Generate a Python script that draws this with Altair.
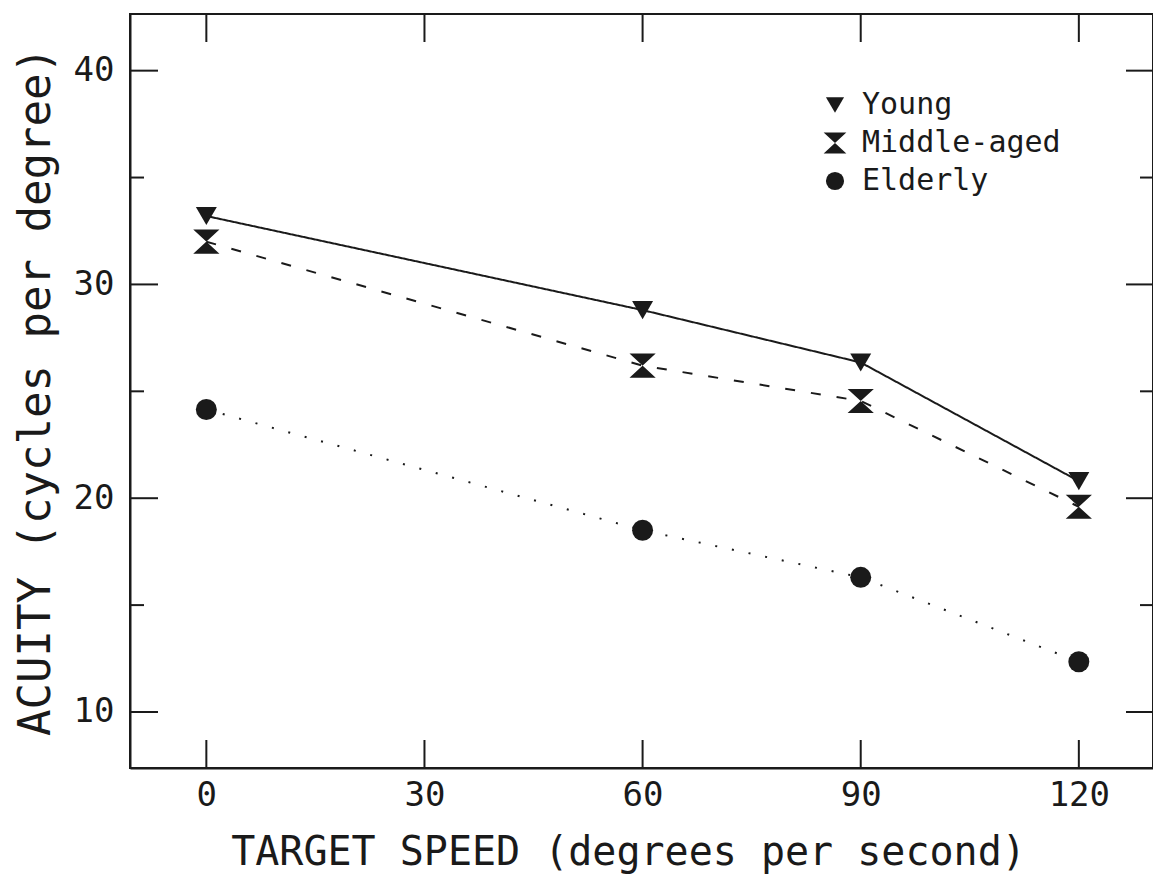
import altair as alt
import pandas as pd

# ---- data ----
speed = [0, 60, 90, 120]
young = [33.2, 28.8, 26.35, 20.8]
middle = [32.0, 26.2, 24.55, 19.6]
elderly = [24.15, 18.5, 16.3, 12.35]
groups = ["Young", "Middle-aged", "Elderly"]

x_ticks = [0, 30, 60, 90, 120]
y_major = [10, 20, 30, 40]
y_minor = [15, 25, 35]

HOURGLASS = "M-1.25,-1.15 L1.25,-1.15 L-1.25,1.15 L1.25,1.15 Z"
FONT = "DejaVu Sans Mono"
INK = "#1a1a1a"

W, H = 1023, 754

rows = []
for g, vals in zip(groups, [young, middle, elderly]):
    for s, v in zip(speed, vals):
        rows.append({"group": g, "speed": s, "acuity": v})
df = pd.DataFrame(rows)

xscale = alt.Scale(domain=[-10.5, 130.2], nice=False, zero=False)
yscale = alt.Scale(domain=[7.38, 42.65], nice=False, zero=False)

xaxis = alt.Axis(values=x_ticks, ticks=False, tickSize=0, grid=False, labelFont=FONT,
                 labelFontSize=34, labelPadding=10, labelColor=INK, domainColor=INK,
                 domainWidth=2, title="TARGET SPEED (degrees per second)", titleFont=FONT,
                 titleFontSize=40, titleFontWeight="normal", titleColor=INK, titlePadding=20,
                 titleX=498, titleAlign="center")
yaxis = alt.Axis(values=y_major, ticks=False, tickSize=0, grid=False, labelFont=FONT,
                 labelFontSize=34, labelPadding=16, labelColor=INK, domainColor=INK,
                 domainWidth=2, title="ACUITY (cycles per degree)", titleFont=FONT,
                 titleFontSize=44, titleFontWeight="normal", titleColor=INK, titlePadding=15)

base = alt.Chart(df)

lines = base.mark_line(strokeWidth=2, color=INK).encode(
    x=alt.X("speed:Q", scale=xscale, axis=xaxis),
    y=alt.Y("acuity:Q", scale=yscale, axis=yaxis),
    strokeDash=alt.StrokeDash("group:N", scale=alt.Scale(domain=groups, range=[[1, 0], [10, 16], [2, 15]]),
                              legend=None),
    detail="group:N",
)

points = base.mark_point(filled=True, opacity=1, color=INK, size=440).encode(
    x=alt.X("speed:Q", scale=xscale),
    y=alt.Y("acuity:Q", scale=yscale),
    shape=alt.Shape("group:N",
                    scale=alt.Scale(domain=groups, range=["triangle-down", HOURGLASS, "circle"]),
                    legend=alt.Legend(title=None, orient="none", legendX=690, legendY=76,
                                      labelFont=FONT, labelFontSize=30, labelColor=INK,
                                      labelLimit=0,
                                      symbolSize=330, symbolFillColor=INK, symbolStrokeWidth=0,
                                      symbolType="circle", labelOffset=12, rowPadding=8,
                                      padding=0)),
)

xt = pd.DataFrame({"v": x_ticks})
ymaj = pd.DataFrame({"v": y_major})
ymin = pd.DataFrame({"v": y_minor})

tick_bottom = alt.Chart(xt).mark_rule(color=INK, strokeWidth=2).encode(
    x=alt.X("v:Q", scale=xscale), y=alt.value(H), y2=alt.value(H - 28))
tick_top = alt.Chart(xt).mark_rule(color=INK, strokeWidth=2).encode(
    x=alt.X("v:Q", scale=xscale), y=alt.value(0), y2=alt.value(28))
tick_left_maj = alt.Chart(ymaj).mark_rule(color=INK, strokeWidth=2).encode(
    y=alt.Y("v:Q", scale=yscale), x=alt.value(0), x2=alt.value(28))
tick_right_maj = alt.Chart(ymaj).mark_rule(color=INK, strokeWidth=2).encode(
    y=alt.Y("v:Q", scale=yscale), x=alt.value(W), x2=alt.value(W - 27))
tick_left_min = alt.Chart(ymin).mark_rule(color=INK, strokeWidth=2).encode(
    y=alt.Y("v:Q", scale=yscale), x=alt.value(0), x2=alt.value(14))
tick_right_min = alt.Chart(ymin).mark_rule(color=INK, strokeWidth=2).encode(
    y=alt.Y("v:Q", scale=yscale), x=alt.value(W), x2=alt.value(W - 13))

chart = alt.layer(
    lines, points, tick_bottom, tick_top, tick_left_maj, tick_right_maj, tick_left_min, tick_right_min
).properties(
    width=W, height=H,
    autosize=alt.AutoSizeParams(type="none"),
    padding={"left": 130, "top": 14, "right": 0, "bottom": 112},
    background="white",
).configure_view(stroke=INK, strokeWidth=2).resolve_scale(shape="independent")

chart.save("out.html", embed_options={"renderer": "svg", "actions": False})
